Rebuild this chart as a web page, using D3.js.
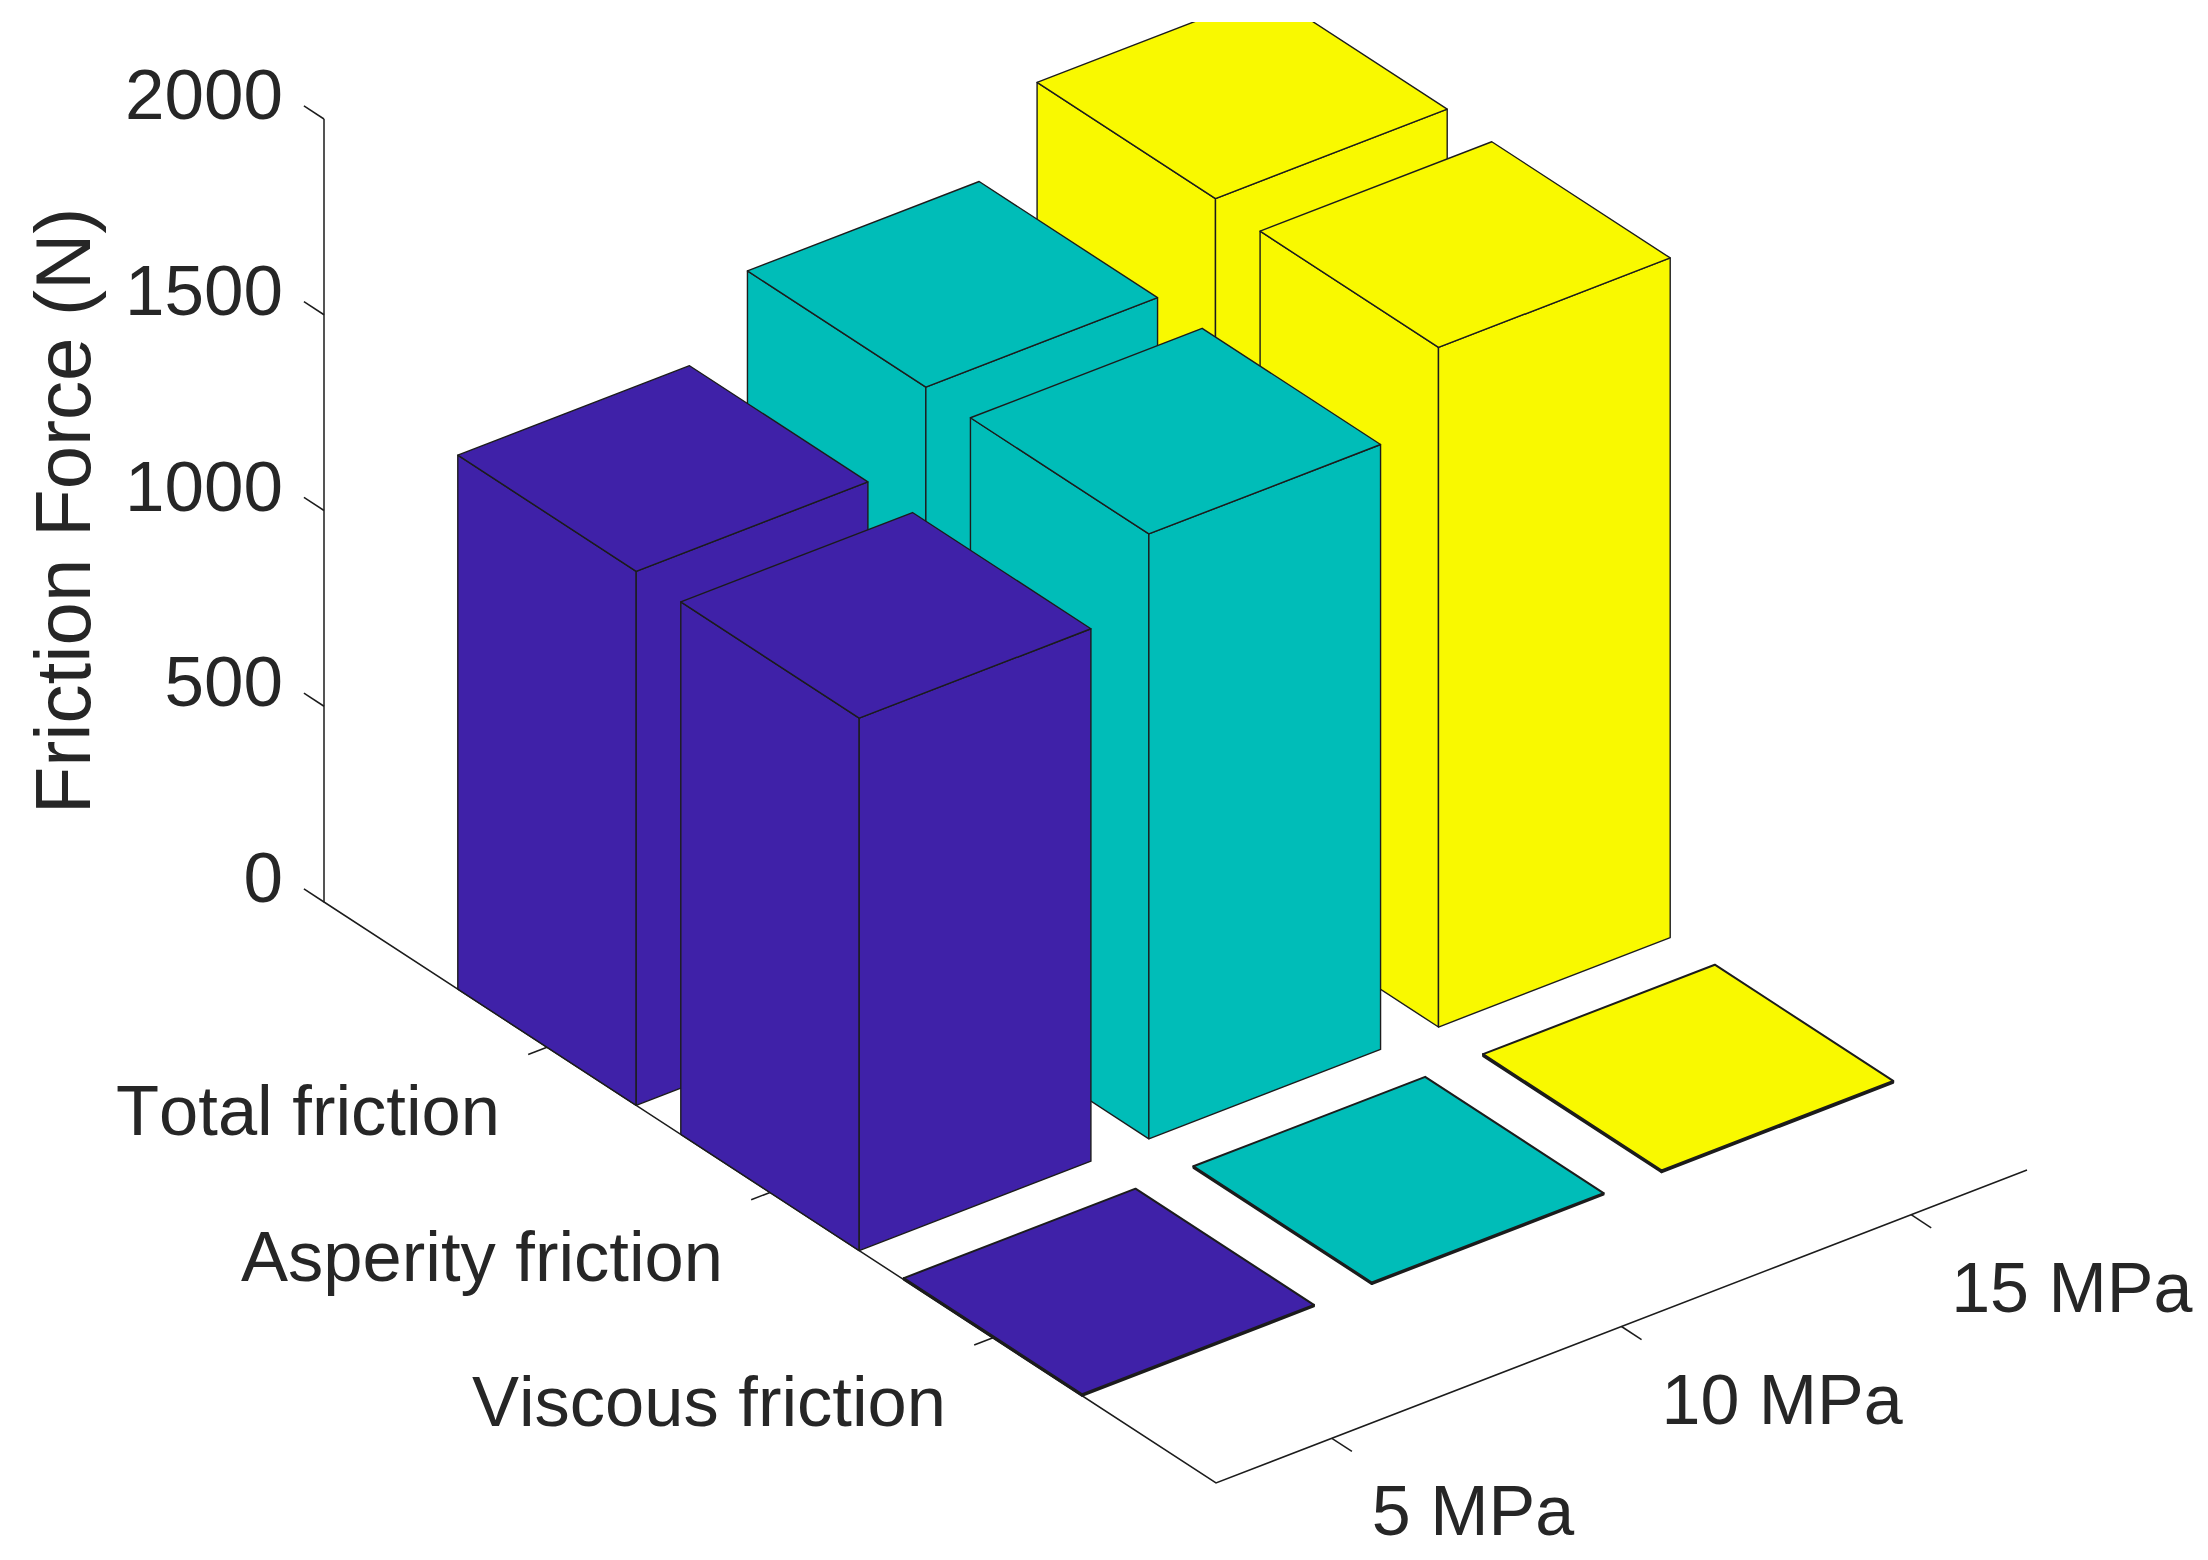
<!DOCTYPE html>
<html>
<head>
<meta charset="utf-8">
<script src="https://cdn.jsdelivr.net/npm/d3@7"></script>
<style>
  html, body { margin: 0; padding: 0; background: #fff; }
  text { font-family: "Liberation Sans", Arial, sans-serif; fill: #262626; font-kerning: none; }
</style>
</head>
<body>
<div id="plotPlaceholder1"></div>
<script>
const pressures = ["5 MPa", "10 MPa", "15 MPa"]
const frictions = ["Viscous friction", "Asperity friction", "Total friction"]
const viscous = [4, 4, 5]
const asperity = [1360, 1545, 1736]
const total = [1364, 1549, 1745]
const zTicks = [0, 500, 1000, 1500, 2000]
const colors = ["#3f21a8", "#00bdb8", "#f9f900"]

const width = 2208
const height = 1560
const corner = [1216, 1483]
const barWidth = 0.8

// the three axes each map a value onto a screen offset, added up in project()
const x = d3.scaleLinear().domain([0.6, 3.4]).range([[0, 0], [811, -313]])
const y = d3.scaleLinear().domain([0, 4]).range([[0, 0], [-892, -581]])
const z = d3.scaleLinear().domain([0, 2000]).range([[0, 0], [0, -783]])

const project = (a, b, c) => {
  const p = x(a), q = y(b), r = z(c)
  return [corner[0] + p[0] + q[0] + r[0], corner[1] + p[1] + q[1] + r[1]]
}

const polygon = d3.line().curve(d3.curveLinearClosed)
const segment = d3.line()

const canvas = d3.select("#plotPlaceholder1").append("svg")
  .attr("width", width)
  .attr("height", height)
  .style("display", "block")

canvas.append("defs").append("clipPath")
  .attr("id", "clip")
  .append("rect")
  .attr("x", 0)
  .attr("y", 22)
  .attr("width", width)
  .attr("height", height - 22)

const axes = canvas.append("g")
  .attr("fill", "none")
  .attr("stroke", "#1c1c1c")
  .attr("stroke-width", 1.5)

const xMin = x.domain()[0], xMax = x.domain()[1]
const yMin = y.domain()[0], yMax = y.domain()[1]

axes.append("path").attr("d", segment([project(xMin, yMax, 2000), project(xMin, yMax, 0), project(xMin, yMin, 0), project(xMax, yMin, 0)]))

zTicks.forEach(d => {
  axes.append("path").attr("d", segment([project(xMin, yMax, d), project(xMin, yMax + 0.09, d)]))
  const p = project(xMin, yMax, d)
  canvas.append("text")
    .attr("x", 283)
    .attr("y", p[1])
    .attr("text-anchor", "end")
    .attr("font-size", 71)
    .text(d)
})

frictions.forEach((d, i) => {
  axes.append("path").attr("d", segment([project(xMin, i + 1, 0), project(xMin - 0.065, i + 1, 0)]))
  const p = project(xMin, i + 1, 0)
  canvas.append("text")
    .attr("x", p[0] - 47)
    .attr("y", p[1] + 88)
    .attr("text-anchor", "end")
    .attr("font-size", 70.5)
    .text(d)
})

pressures.forEach((d, i) => {
  axes.append("path").attr("d", segment([project(i + 1, yMin, 0), project(i + 1, yMin - 0.09, 0)]))
  const p = project(i + 1, yMin, 0)
  canvas.append("text")
    .attr("x", p[0] + 40)
    .attr("y", p[1] + 97)
    .attr("font-size", 70)
    .text(d)
})

// Y Axis title
canvas.append("text")
  .attr("transform", "translate(90,511) rotate(-90)")
  .attr("text-anchor", "middle")
  .attr("font-size", 78)
  .text("Friction Force (N)")

const bars = []
;[viscous, asperity, total].forEach((values, row) => {
  values.forEach((value, col) => {
    bars.push({col: col + 1, row: row + 1, value: value, color: colors[col]})
  })
})

// back to front: the higher the foot of a bar on screen, the further away it is
bars.sort((a, b) => d3.ascending(project(a.col, a.row, 0)[1], project(b.col, b.row, 0)[1]))

const half = barWidth / 2

const faces = d => {
  const x0 = d.col - half, x1 = d.col + half
  const y0 = d.row - half, y1 = d.row + half
  return [
    [project(x0, y0, 0), project(x0, y1, 0), project(x0, y1, d.value), project(x0, y0, d.value)],
    [project(x0, y0, 0), project(x1, y0, 0), project(x1, y0, d.value), project(x0, y0, d.value)],
    [project(x0, y0, d.value), project(x1, y0, d.value), project(x1, y1, d.value), project(x0, y1, d.value)]
  ]
}

const barGroups = canvas.append("g")
  .attr("clip-path", "url(#clip)")
  .selectAll("g")
  .data(bars)
  .enter().append("g")

// the nearly flat viscous bars pile their edges up, so they read heavier
barGroups.selectAll("path")
  .data(d => faces(d).map(f => ({points: f, color: d.color, flat: d.value < 10})))
  .enter().append("path")
  .attr("d", d => polygon(d.points))
  .attr("fill", d => d.color)
  .attr("stroke", "#1c1c1c")
  .attr("stroke-width", d => d.flat ? 2 : 1.4)
  .attr("stroke-linejoin", "round")
</script>
</body>
</html>
